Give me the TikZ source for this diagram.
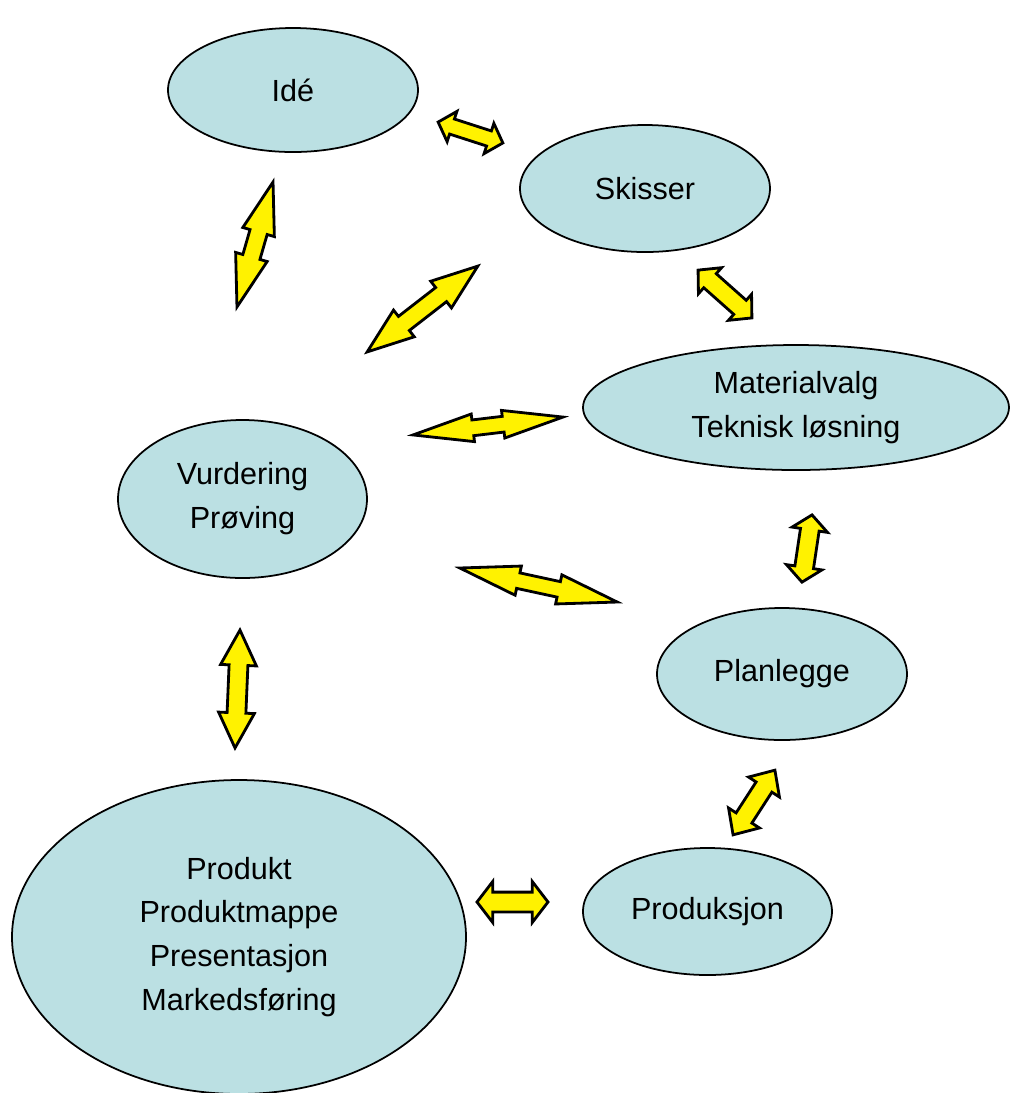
\documentclass[tikz,border=0pt]{standalone}
\usepackage{fontspec}
\setmainfont{Liberation Sans}
\usetikzlibrary{shapes.geometric, shapes.arrows}

\definecolor{phaseblue}{RGB}{187,224,227}

\tikzstyle{phase}=[ellipse, draw=black, fill=phaseblue, line width=0.5pt,
                   inner sep=0, align=center,
                   font=\fontsize{8.7}{12.5}\selectfont]
\tikzstyle{link}=[double arrow, draw=black, fill=yellow, line width=0.8pt,
                  inner sep=0.075cm, outer sep=0,
                  double arrow head extend=0.08cm]

\begin{document}
\begin{tikzpicture}

  \useasboundingbox (0, 0) rectangle (10.10, -10.93);

  %%%%%%%%%%%%%%%%%%%%%%%%%%%%%%
  % phases
  \node (idea) at (2.93, -0.90) [phase, minimum width=2.50cm, minimum height=1.24cm] {Idé};

  \node (sketch) at (6.45, -1.885) [phase, minimum width=2.50cm, minimum height=1.27cm] {Skisser};

  \node (material) at (7.96, -4.075) [phase, minimum width=4.26cm, minimum height=1.25cm] {Materialvalg\\Teknisk løsning};

  \node (review) at (2.425, -4.99) [phase, minimum width=2.49cm, minimum height=1.58cm] {Vurdering\\Prøving};

  \node (plan) at (7.82, -6.74) [phase, minimum width=2.50cm, minimum height=1.32cm] {Planlegge};

  \node (production) at (7.075, -9.115) [phase, minimum width=2.49cm, minimum height=1.27cm] {Produksjon};

  \node (product) at (2.39, -9.37) [phase, minimum width=4.54cm, minimum height=3.14cm] {Produkt\\Produktmappe\\Presentasjon\\Markedsføring};

  %%%%%%%%%%%%%%%%%%%%%%%%%%%%%%
  % arrows
  \node (idea_sketch) at (4.705, -1.325) [link, rotate=-17.9, minimum height=0.68cm,
      inner sep=0.065cm, double arrow head extend=0.08cm, double arrow tip angle=95] {};

  \node (idea_review) at (2.55, -2.445) [link, rotate=73.9, minimum height=1.30cm,
      inner sep=0.075cm, double arrow head extend=0.075cm, double arrow tip angle=35] {};

  \node (sketch_review) at (4.225, -3.09) [link, rotate=37.8, minimum height=1.40cm,
      inner sep=0.075cm, double arrow head extend=0.08cm, double arrow tip angle=40] {};

  \node (material_review) at (4.88, -4.26) [link, rotate=6.8, minimum height=1.51cm,
      inner sep=0.065cm, double arrow head extend=0.06cm, double arrow tip angle=26] {};

  \node (plan_review) at (5.385, -5.85) [link, rotate=-12.2, minimum height=1.61cm,
      inner sep=0.065cm, double arrow head extend=0.07cm, double arrow tip angle=28] {};

  \node (product_production) at (5.125, -9.02) [link, minimum height=0.71cm,
      inner sep=0.085cm, double arrow head extend=0.105cm, double arrow tip angle=105] {};

  \node (sketch_material) at (7.25, -2.94) [link, rotate=-41.6, minimum height=0.72cm,
      inner sep=0.08cm, double arrow head extend=0.08cm, double arrow tip angle=95] {};

  \node (material_plan) at (8.07, -5.485) [link, rotate=81.5, minimum height=0.68cm,
      inner sep=0.08cm, double arrow head extend=0.085cm, double arrow tip angle=100] {};

  \node (plan_production) at (7.54, -8.025) [link, rotate=57.1, minimum height=0.77cm,
      inner sep=0.08cm, double arrow head extend=0.09cm, double arrow tip angle=85] {};

  \node (review_product) at (2.375, -6.89) [link, rotate=87.6, minimum height=1.18cm,
      inner sep=0.08cm, double arrow head extend=0.085cm, double arrow tip angle=54] {};

\end{tikzpicture}
\end{document}
